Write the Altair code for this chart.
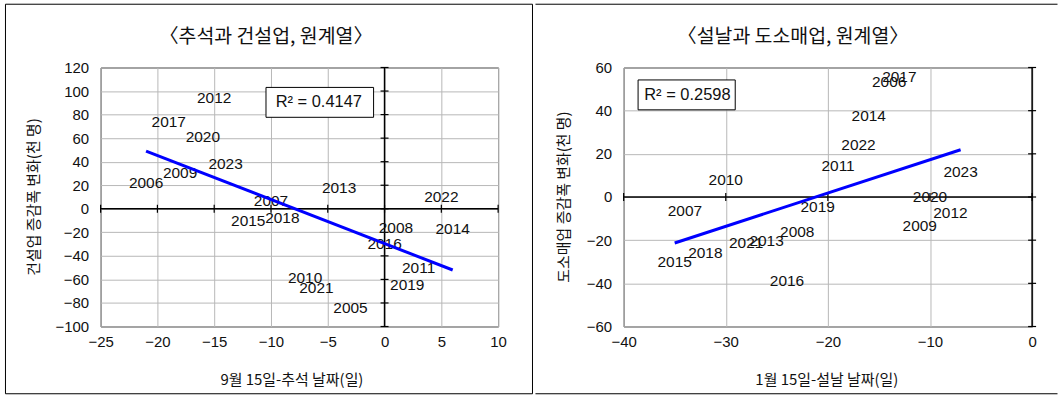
import altair as alt
import pandas as pd

FONT_KR = "Noto Sans CJK KR"
FONT_NUM = "Liberation Sans"
INK = "#111111"

# 추석과 건설업: 연도, 9월 15일-추석 날짜(일), 건설업 증감폭 변화(천 명)
chuseok_years = [2005, 2006, 2007, 2008, 2009, 2010, 2011, 2012, 2013, 2014,
                 2015, 2016, 2017, 2018, 2019, 2020, 2021, 2022, 2023]
chuseok_gap = [-3, -21, -10, 1, -18, -7, 3, -15, -4, 6,
               -12, 0, -19, -9, 2, -16, -6, 5, -14]
construction_change = [-84, 22, 7, -16, 30, -59, -50, 94, 18, -17,
                       -10, -30, 74, -8, -65, 61, -67, 10, 38]
chuseok_trend_gap = [-21, 6]
chuseok_trend_change = [49, -52]
chuseok_r2 = "0.4147"

# 설날과 도소매업: 연도, 1월 15일-설날 날짜(일), 도소매업 증감폭 변화(천 명)
seollal_years = [2006, 2007, 2008, 2009, 2010, 2011, 2012, 2013, 2014,
                 2015, 2016, 2017, 2018, 2019, 2020, 2021, 2022, 2023]
seollal_gap = [-14, -34, -23, -11, -30, -19, -8, -26, -16,
               -35, -24, -13, -32, -21, -10, -28, -17, -7]
retail_change = [53.5, -6.5, -16, -13.5, 8, 14.5, -7.5, -20.5, 37.5,
                 -30, -39, 55.5, -26, -4.5, 0, -21.5, 24, 11.5]
seollal_trend_gap = [-35, -7]
seollal_trend_change = [-21.3, 21.9]
seollal_r2 = "0.2598"

# tick labels with a true minus sign
MINUS_LABEL = "datum.value < 0 ? '\u2212' + format(-datum.value, 'd') : format(datum.value, 'd')"


def panel(years, gap, change, trend_gap, trend_change, r2,
          x_domain, x_step, y_domain, y_step, width, height,
          title, x_title, y_title, pos, full_frame):
    x_ticks = list(range(x_domain[0], x_domain[1] + 1, x_step))
    y_ticks = list(range(y_domain[0], y_domain[1] + 1, y_step))

    x_enc = alt.X("x:Q",
                  scale=alt.Scale(domain=x_domain, nice=False, zero=False),
                  axis=alt.Axis(values=x_ticks, title=None, grid=True, ticks=False,
                                domain=False, labelPadding=8, labelFlush=False,
                                labelExpr=MINUS_LABEL))
    y_enc = alt.Y("y:Q",
                  scale=alt.Scale(domain=y_domain, nice=False, zero=False),
                  axis=alt.Axis(values=y_ticks, title=None, grid=True, ticks=False,
                                domain=False, labelPadding=12, labelFlush=False,
                                labelExpr=MINUS_LABEL))

    pts = pd.DataFrame({"x": gap, "y": change, "label": [str(v) for v in years]})
    trend = pd.DataFrame({"x": trend_gap, "y": trend_change})
    hline = pd.DataFrame({"x": [x_domain[0]], "x2": [x_domain[1]], "y": [0]})
    vline = pd.DataFrame({"x": [0], "y": [y_domain[0]], "y2": [y_domain[1]]})
    xt = pd.DataFrame({"x": x_ticks, "y": [0] * len(x_ticks)})
    yt = pd.DataFrame({"x": [0] * len(y_ticks), "y": y_ticks})
    one = pd.DataFrame({"k": [0]})

    # zero axes crossing the plot, with tick marks across them
    h_axis = alt.Chart(hline).mark_rule(color="#000", strokeWidth=1.5).encode(
        x=x_enc, x2=alt.X2("x2"), y=y_enc)
    v_axis = alt.Chart(vline).mark_rule(color="#000", strokeWidth=1.5).encode(
        x=x_enc, y=y_enc, y2=alt.Y2("y2"))
    h_ticks = alt.Chart(xt).mark_rule(color="#000", strokeWidth=1.2,
                                      yOffset=-4, y2Offset=4).encode(
        x=x_enc, y=y_enc, y2=alt.Y2("y"))
    v_ticks = alt.Chart(yt).mark_rule(color="#000", strokeWidth=1.2,
                                      xOffset=-4, x2Offset=4).encode(
        x=x_enc, x2=alt.X2("x"), y=y_enc)

    labels = alt.Chart(pts).mark_text(font=FONT_NUM, fontSize=15.5, color=INK).encode(
        x=x_enc, y=y_enc, text="label:N")

    line = alt.Chart(trend).mark_line(color="#0000ff", strokeWidth=3).encode(
        x=x_enc, y=y_enc)

    bx0, by0, bx1, by1, tx, ty = pos["r2box"]
    r2_box = alt.Chart(one).mark_rect(fill="#ffffff", stroke="#000", strokeWidth=1).encode(
        x=alt.value(bx0), x2=alt.value(bx1), y=alt.value(by0), y2=alt.value(by1))
    r2_text = alt.Chart(one).mark_text(font=FONT_NUM, fontSize=16.5, color=INK,
                                       text=f"R²  = {r2}").encode(
        x=alt.value(tx), y=alt.value(ty))

    t_title = alt.Chart(one).mark_text(font=FONT_KR, fontSize=19.5, color=INK,
                                       text=title).encode(
        x=alt.value(pos["title"][0]), y=alt.value(pos["title"][1]))
    t_xtitle = alt.Chart(one).mark_text(font=FONT_KR, fontSize=15, color=INK,
                                        text=x_title).encode(
        x=alt.value(pos["xtitle"][0]), y=alt.value(pos["xtitle"][1]))
    t_ytitle = alt.Chart(one).mark_text(font=FONT_KR, fontSize=15, color=INK,
                                        angle=270, text=y_title).encode(
        x=alt.value(pos["ytitle"][0]), y=alt.value(pos["ytitle"][1]))

    fx0, fy0, fx1, fy1 = pos["frame"]
    if full_frame:
        frame = [alt.Chart(one).mark_rect(fill="transparent", stroke="#000",
                                          strokeWidth=1).encode(
            x=alt.value(fx0), x2=alt.value(fx1), y=alt.value(fy0), y2=alt.value(fy1))]
    else:
        frame = [
            alt.Chart(one).mark_rule(color="#000", strokeWidth=1).encode(
                x=alt.value(fx0), x2=alt.value(fx1), y=alt.value(fy0), y2=alt.value(fy0)),
            alt.Chart(one).mark_rule(color="#000", strokeWidth=1).encode(
                x=alt.value(fx0), x2=alt.value(fx1), y=alt.value(fy1), y2=alt.value(fy1)),
        ]

    return alt.layer(
        h_axis, v_axis, h_ticks, v_ticks, labels, line, r2_box, r2_text,
        t_title, t_xtitle, t_ytitle, *frame
    ).properties(width=width, height=height)


left = panel(
    chuseok_years, chuseok_gap, construction_change,
    chuseok_trend_gap, chuseok_trend_change, chuseok_r2,
    [-25, 10], 5, [-100, 120], 20, 399, 260,
    "〈추석과 건설업, 원계열〉", "9월 15일-추석 날짜(일)", "건설업 증감폭 변화(천 명)",
    {"r2box": (166, 20, 274, 50, 219, 35),
     "title": (166, -31), "xtitle": (192, 314), "ytitle": (-67, 130),
     "frame": (-95.5, -63.5, 433.5, 327.5)},
    full_frame=True,
)

right = panel(
    seollal_years, seollal_gap, retail_change,
    seollal_trend_gap, seollal_trend_change, seollal_r2,
    [-40, 0], 10, [-60, 60], 20, 410, 260,
    "〈설날과 도소매업, 원계열〉", "1월 15일-설날 날짜(일)", "도소매업 증감폭 변화(천 명)",
    {"r2box": (14.5, 12.5, 112, 42.5, 64, 27.5),
     "title": (170, -31), "xtitle": (204, 314), "ytitle": (-60, 130),
     "frame": (-88.5, -63.5, 435.5, 327.5)},
    full_frame=False,
)

chart = alt.hconcat(left, right, spacing=0).properties(
    padding={"left": 4, "top": 2, "right": 0, "bottom": 0},
    background="#ffffff",
).configure_view(
    stroke="#222222", strokeWidth=1,
).configure_axis(
    gridColor="#b8b8b8", gridWidth=1,
    labelFont=FONT_NUM, labelFontSize=15, labelColor=INK,
)

chart.save("out.html", embed_options={"renderer": "svg", "actions": False})
